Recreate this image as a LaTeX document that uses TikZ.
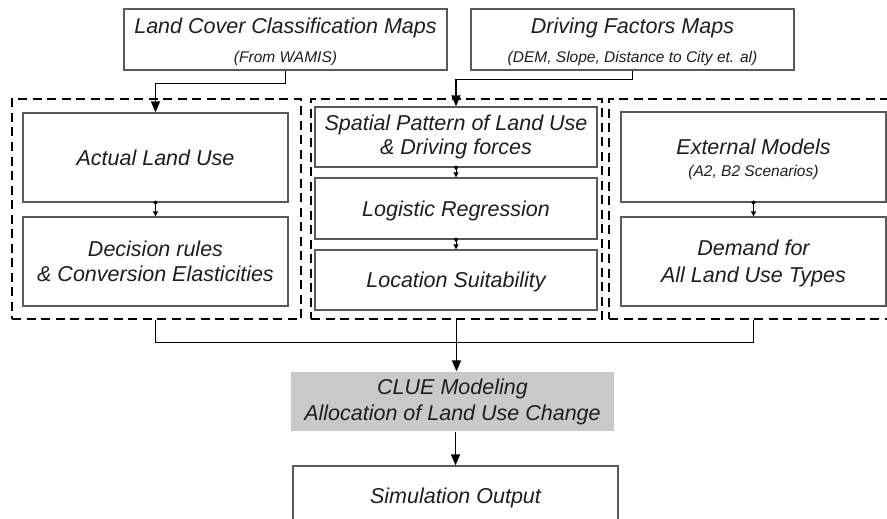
\documentclass[tikz,border=0pt]{standalone}
\usepackage{fontspec}
\setmainfont{Liberation Sans}
\usetikzlibrary{arrows.meta}

\definecolor{boxline}{HTML}{5A5A5A}
\definecolor{txt}{HTML}{1E1E1E}
\definecolor{cluefill}{HTML}{C9C9C9}

\newcommand{\mainsz}{\fontsize{21.5}{25.5}\selectfont\itshape}
\newcommand{\subsz}{\fontsize{15.5}{18}\selectfont\itshape}
\newcommand{\topstrut}[1]{\rule{0pt}{#1}}

\tikzset{
  box/.style={draw=boxline, line width=1.3pt, fill=white, inner sep=0pt,
    align=center, text=txt, font=\mainsz},
  single/.style={text height=15.4pt, text depth=0pt},
  group/.style={draw=black, line width=1.2pt, dash pattern=on 9pt off 5.5pt,
    inner sep=0pt},
  conn/.style={draw=black, line width=1.4pt,
    -{Triangle[length=11pt,width=9pt]}},
  plain/.style={draw=black, line width=1.4pt},
  link/.style={draw=black, line width=1pt,
    {Circle[length=4pt]}-{Triangle[length=5pt,width=5pt]}, shorten <=-2pt}
}

\begin{document}
\begin{tikzpicture}[x=1pt,y=-1pt]
\clip (0,0) rectangle (887,519);
\fill[white] (0,0) rectangle (887,519);

% input maps
\node[box, minimum width=323pt, minimum height=61pt] (lcm) at (285.5,39.5)
  {\topstrut{20pt}Land Cover Classification Maps\\[3pt]{\subsz (From WAMIS)}};
\node[box, minimum width=323pt, minimum height=61pt] (dfm) at (632.5,39.5)
  {\topstrut{20pt}Driving Factors Maps\\[3pt]{\subsz (DEM, Slope, Distance to City et. al)}};

% dashed groups
\node[group, minimum width=289pt, minimum height=220pt] (g1) at (156.5,209) {};
\node[group, minimum width=291pt, minimum height=220pt] (g2) at (456.5,209) {};
\node[group, minimum width=291pt, minimum height=220pt] (g3) at (754.5,209) {};

% left group
\node[box, single, minimum width=265pt, minimum height=89pt] (alu) at (155.5,157.5)
  {Actual Land Use};
\node[box, minimum width=265pt, minimum height=89pt] (dec) at (155.5,261.5)
  {Decision rules\\\& Conversion Elasticities};

% middle group
\node[box, minimum width=282pt, minimum height=60pt] (spd) at (456,137)
  {Spatial Pattern of Land Use\\[-1.5pt]\& Driving forces};
\node[box, single, minimum width=282pt, minimum height=61pt] (lr) at (456,208.5)
  {Logistic Regression};
\node[box, single, minimum width=282pt, minimum height=60pt] (ls) at (456,280)
  {Location Suitability};

% right group
\node[box, minimum width=265pt, minimum height=90pt] (ext) at (753.5,157)
  {\topstrut{20pt}External Models\\[-4pt]{\subsz (A2, B2 Scenarios)}};
\node[box, minimum width=265pt, minimum height=89pt] (dem) at (753.5,261.5)
  {\topstrut{19pt}Demand for\\[1pt]All Land Use Types};

% model and output
\node[box, draw=none, fill=cluefill, minimum width=323pt, minimum height=59pt]
  (clue) at (452.5,401.5) {\topstrut{17pt}CLUE Modeling\\[0.5pt]Allocation of Land Use Change};
\node[box, single, minimum width=325pt, minimum height=59pt] (sim) at (455.5,495.5)
  {Simulation Output};

% connectors
\draw[conn] (lcm.south) -- ++(0,13) -| (alu.north);
\draw[conn] (dfm.south) -- ++(0,9) -| (spd.north);

\draw[link] (alu.south) -- (dec.north);
\draw[link] (spd.south) -- (lr.north);
\draw[link] (lr.south) -- (ls.north);
\draw[link] (ext.south) -- (dem.north);

\draw[plain] (alu.south |- g1.south) -- ++(0,23) -| (ext.south |- g3.south);
\draw[conn] (g2.south) -- (g2.south |- clue.north);
\draw[conn] (clue.south -| sim.north) -- (sim.north);
\end{tikzpicture}
\end{document}
